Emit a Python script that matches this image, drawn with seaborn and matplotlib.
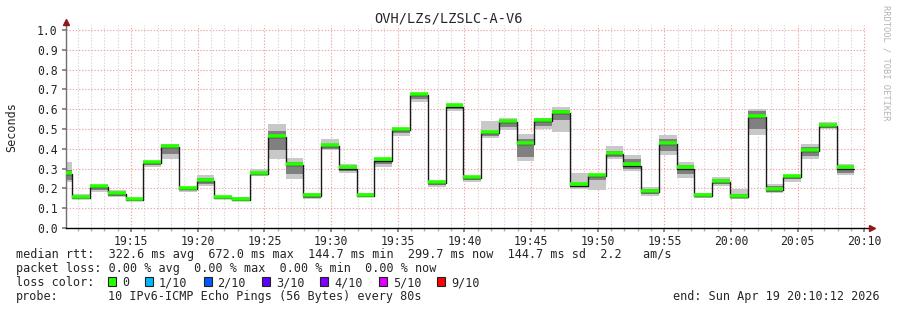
import numpy as np
import matplotlib
matplotlib.use("Agg")
import matplotlib.pyplot as plt
import matplotlib.patches as mpatches
import matplotlib.transforms as mtrans
import seaborn as sns
import pandas as pd

# ---------------- data ----------------
title = "OVH/LZs/LZSLC-A-V6"
# segment start time (minutes after 19:00) and step of 80 s
t_start = 9 + 15.5 / 60
t_step = 80 / 60
median = [0.271, 0.153, 0.207, 0.170, 0.141, 0.328, 0.407, 0.197, 0.236, 0.150,
          0.141, 0.273, 0.458, 0.316, 0.160, 0.412, 0.300, 0.160, 0.340, 0.493,
          0.673, 0.227, 0.613, 0.251, 0.481, 0.534, 0.423, 0.539, 0.581, 0.214,
          0.261, 0.374, 0.315, 0.182, 0.424, 0.300, 0.160, 0.231, 0.158, 0.559,
          0.192, 0.259, 0.389, 0.515, 0.300]
smoke_lo = [0.234, 0.150, 0.183, 0.157, 0.138, 0.310, 0.350, 0.183, 0.214, 0.145,
            0.136, 0.264, 0.350, 0.247, 0.148, 0.392, 0.278, 0.155, 0.310, 0.466,
            0.638, 0.209, 0.593, 0.234, 0.456, 0.495, 0.340, 0.500, 0.487, 0.197,
            0.192, 0.350, 0.288, 0.163, 0.369, 0.254, 0.153, 0.214, 0.148, 0.470,
            0.175, 0.234, 0.350, 0.498, 0.269]
smoke_hi = [0.332, 0.170, 0.212, 0.190, 0.145, 0.335, 0.424, 0.207, 0.268, 0.155,
            0.157, 0.298, 0.525, 0.352, 0.177, 0.449, 0.322, 0.177, 0.355, 0.500,
            0.684, 0.232, 0.621, 0.263, 0.540, 0.554, 0.475, 0.554, 0.611, 0.278,
            0.271, 0.412, 0.367, 0.207, 0.470, 0.332, 0.177, 0.258, 0.197, 0.599,
            0.222, 0.264, 0.424, 0.535, 0.322]
inner_lo = [0.240, 0.152, 0.190, 0.160, 0.140, 0.318, 0.375, 0.190, 0.222, 0.147,
            0.139, 0.268, 0.395, 0.275, 0.152, 0.400, 0.288, 0.157, 0.322, 0.478,
            0.650, 0.215, 0.600, 0.240, 0.465, 0.510, 0.360, 0.515, 0.545, 0.205,
            0.240, 0.360, 0.300, 0.170, 0.390, 0.275, 0.156, 0.220, 0.152, 0.500,
            0.180, 0.245, 0.365, 0.505, 0.280]
inner_hi = [0.295, 0.162, 0.207, 0.183, 0.143, 0.330, 0.410, 0.200, 0.250, 0.152,
            0.150, 0.285, 0.490, 0.335, 0.168, 0.425, 0.310, 0.168, 0.345, 0.496,
            0.677, 0.229, 0.615, 0.255, 0.490, 0.545, 0.450, 0.545, 0.596, 0.225,
            0.265, 0.390, 0.350, 0.195, 0.450, 0.320, 0.165, 0.245, 0.170, 0.590,
            0.210, 0.262, 0.410, 0.525, 0.310]
x_ticks = [15, 20, 25, 30, 35, 40, 45, 50, 55, 60, 65, 70]
x_labels = ["19:15", "19:20", "19:25", "19:30", "19:35", "19:40", "19:45",
            "19:50", "19:55", "20:00", "20:05", "20:10"]
y_ticks = [0.0, 0.1, 0.2, 0.3, 0.4, 0.5, 0.6, 0.7, 0.8, 0.9, 1.0]
legend_line1 = "median rtt:  322.6 ms avg  672.0 ms max  144.7 ms min  299.7 ms now  144.7 ms sd  2.2   am/s"
legend_line2 = "packet loss: 0.00 % avg  0.00 % max  0.00 % min  0.00 % now"
loss_labels = ["0", "1/10", "2/10", "3/10", "4/10", "5/10", "9/10"]
loss_colors = ["#26ff00", "#00b8ff", "#0059ff", "#5e00ff", "#7e00ff", "#dd00ff", "#ff0000"]
probe_text = "10 IPv6-ICMP Echo Pings (56 Bytes) every 80s"
end_text = "end: Sun Apr 19 20:10:12 2026"

# ---------------- style ----------------
sns.set_theme(style="white")
MONO = ["DejaVu Sans Mono"]
plt.rcParams["font.family"] = MONO

W, H = 897, 310
fig = plt.figure(figsize=(W / 100, H / 100), dpi=100)
fig.patch.set_facecolor("white")
ax = fig.add_axes([66 / W, (H - 228) / H, 806 / W, 206 / H])
ax.set_facecolor("white")
x0, x1 = 10.125, 70.575
y0, y1 = 0.0, 1.0404
ax.set_xlim(x0, x1)
ax.set_ylim(y0, y1)

n = len(median)
starts = t_start + t_step * np.arange(n)
edges = t_start + t_step * np.arange(n + 1)

# grid
dots = (0, (1.2, 1.6))
minor_x = [m for m in range(11, 71) if m % 5 != 0]
ax.vlines(minor_x, 0, 1.025, colors="#d6d6d6", lw=0.8, linestyles=dots, zorder=0)
ax.vlines(x_ticks, 0, 1.025, colors="#f3a3a3", lw=0.8, linestyles=dots, zorder=0)
ax.hlines(y_ticks[1:], x0, 70.125, colors="#f3a3a3", lw=0.8, linestyles=dots, zorder=0)

# smoke
ax.bar(starts, np.array(smoke_hi) - np.array(smoke_lo), bottom=smoke_lo, width=t_step,
       align="edge", color="#c8c8c8", lw=0, zorder=1)
ax.bar(starts, np.array(inner_hi) - np.array(inner_lo), bottom=inner_lo, width=t_step,
       align="edge", color="#808080", lw=0, zorder=2)

# median step line
step_df = pd.DataFrame({"t": edges, "rtt": list(median) + [median[-1]]})
sns.lineplot(data=step_df, x="t", y="rtt", drawstyle="steps-post", color="#1a1a1a",
             lw=1.0, ax=ax, zorder=3)
# loss colour (median) bars
off = mtrans.offset_copy(ax.transData, fig=fig, x=0, y=1.2, units="dots")
ax.hlines(median, starts, starts + t_step, colors=loss_colors[0], lw=2.6, transform=off, zorder=4)

# axes
ax.set_xlabel("")
for s in ["top", "right"]:
    ax.spines[s].set_visible(False)
ax.spines["left"].set_color("#707070")
ax.spines["left"].set_linewidth(1.0)
ax.spines["bottom"].set_color("#000000")
ax.spines["bottom"].set_linewidth(1.0)
ax.plot([x0], [y1], marker="^", color="#8b1a1a", ms=4.5, clip_on=False, zorder=6)
ax.plot([x1], [0], marker=">", color="#8b1a1a", ms=4.5, clip_on=False, zorder=6)

ax.set_xticks(x_ticks)
ax.set_xticklabels(x_labels, fontsize=8.3, family=MONO)
ax.set_xticks(minor_x, minor=True)
ax.set_yticks(y_ticks)
ax.set_yticklabels([f"{v:.1f}" for v in y_ticks], fontsize=8.3, family=MONO)
ax.tick_params(axis="x", which="major", length=3, color="#808080", pad=2, direction="out", bottom=True)
ax.tick_params(axis="x", which="minor", length=2, color="#b0b0b0", bottom=True)
ax.tick_params(axis="y", length=3, color="#808080", pad=3, left=True)

ax.set_ylabel("Seconds", fontsize=8.5, family=MONO)
ax.yaxis.set_label_coords((18 - 66) / 806, (228 - 127) / 206)

fig.text(448 / W, 1 - 19 / H, title, ha="center", va="center", fontsize=9.8, family=MONO)
fig.text(886 / W, 1 - 5 / H, "RRDTOOL / TOBI OETIKER", rotation=-90, ha="center", va="top",
         fontsize=6.3, color="#b4b4b4", family=MONO)

# legend block
fs = 8.5
def fy(py):
    return 1 - py / H
fig.text(16 / W, fy(258), legend_line1, fontsize=fs, va="baseline", family=MONO)
fig.text(16 / W, fy(272), legend_line2, fontsize=fs, va="baseline", family=MONO)
fig.text(16 / W, fy(286), "loss color:", fontsize=fs, va="baseline", family=MONO)
fig.text(16 / W, fy(300), "probe:", fontsize=fs, va="baseline", family=MONO)
fig.text(108 / W, fy(300), probe_text, fontsize=fs, va="baseline", family=MONO)
fig.text(880 / W, fy(300), end_text, fontsize=fs, va="baseline", ha="right", family=MONO)

bx = 108
for lab, col in zip(loss_labels, loss_colors):
    fig.patches.append(mpatches.Rectangle((bx / W, fy(286)), 8 / W, 9 / H, transform=fig.transFigure,
                                          facecolor=col, edgecolor="#222222", lw=0.8))
    fig.text((bx + 14) / W, fy(286), lab, fontsize=fs, va="baseline", family=MONO)
    bx += 10 + 7.1 * len(lab) + 20

fig.savefig("out.png", dpi=100, facecolor="white")
